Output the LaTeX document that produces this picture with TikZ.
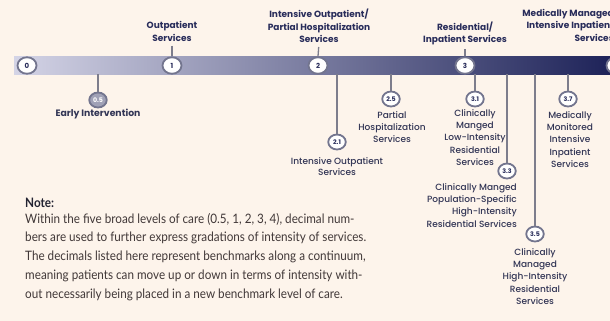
\documentclass[tikz,border=0pt]{standalone}
\usepackage{fontspec}
\usetikzlibrary{shapes.geometric}
\newfontfamily\labfont{Poppins}
\newfontfamily\medfont{Poppins Medium}
\newfontfamily\notefont[FakeStretch=0.9]{Lato}
\definecolor{bgc}{RGB}{253,244,235}
\definecolor{navy}{RGB}{40,44,90}
\definecolor{barL}{RGB}{212,212,230}
\definecolor{barM}{RGB}{95,97,145}
\definecolor{barR}{RGB}{25,30,85}
\definecolor{ringc}{RGB}{115,117,142}
\definecolor{tickc}{RGB}{125,125,140}
\definecolor{subtxt}{RGB}{50,53,85}
\definecolor{notetxt}{RGB}{65,56,56}
\definecolor{notehd}{RGB}{35,35,50}
\definecolor{fillhalf}{RGB}{160,161,182}
\begin{document}
\begin{tikzpicture}[x=1pt,y=-1pt,
  lvl/.style={ellipse, draw=ringc, line width=1.8pt, fill=white, minimum width=19pt, minimum height=16.5pt, inner sep=0pt, text=navy, font=\labfont\bfseries\fontsize{7}{7}\selectfont},
  sublvl/.style={lvl, minimum width=17.5pt, minimum height=15pt, font=\labfont\bfseries\fontsize{6.3}{6}\selectfont},
  toplab/.style={align=center, inner sep=0pt, text=navy, font=\labfont\bfseries\fontsize{9}{12.5}\selectfont, anchor=north},
  sublab/.style={align=center, inner sep=0pt, text=subtxt, font=\medfont\fontsize{9}{12.3}\selectfont, anchor=north},
  tickln/.style={draw=tickc, line width=1.3pt},
  barstyle/.style={rectangle, inner sep=0pt, minimum width=612pt, minimum height=17pt, left color=barL, middle color=barM, right color=barR}]
\useasboundingbox (0,0) rectangle (610,321);
\clip (0,0) rectangle (610,321);
\fill[bgc] (0,0) rectangle (610,321);

% bar
\node[barstyle] (bar) at (320,65.5) {};

% main levels
\node[lvl] (L0) at (27,65.5) {0};
\node[lvl] (L1) at (172,65.5) {1};
\node[lvl] (L2) at (318,65.5) {2};
\node[lvl] (L3) at (465,65.5) {3};
\node[lvl] (L4) at (616,65.5) {4};

% top labels
\node[toplab] (t1) at (172,21.5) {Outpatient\\Services};
\node[toplab] (t2) at (319,9) {Intensive Outpatient/\\Partial Hospitalization\\Services};
\node[toplab] (t3) at (465,21.5) {Residential/\\Inpatient Services};
\node[toplab, anchor=north east, align=right] (t4) at (614,9) {Medically Managed\\Intensive Inpatient\\Services};

\draw[tickln, shorten <=4pt] (t1.south) -- (L1.north);
\draw[tickln, shorten <=4pt] (t2.south) -- (L2.north);
\draw[tickln, shorten <=4pt] (t3.south) -- (L3.north);

% sub levels
\node[sublvl, fill=fillhalf, text=white] (s05) at (98,100) {0.5};
\node[sublvl] (s21) at (337,142) {2.1};
\node[sublvl] (s25) at (391,99) {2.5};
\node[sublvl] (s31) at (475,99) {3.1};
\node[sublvl] (s33) at (507,171) {3.3};
\node[sublvl] (s35) at (535,234) {3.5};
\node[sublvl] (s37) at (568,99) {3.7};

\foreach \s in {s05,s21,s25,s31,s33,s35,s37}
  \draw[tickln] (bar.south -| \s.north) -- (\s.north);

% sub labels
\node[sublab, font=\labfont\bfseries\fontsize{9.3}{12.3}\selectfont] (e05) at (98,109) {Early Intervention};
\node[sublab, font=\medfont\fontsize{9}{11}\selectfont] (e21) at (337,157) {Intensive Outpatient\\Services};
\node[sublab] (e25) at (392,111) {Partial\\Hospitalization\\Services};
\node[sublab] (e31) at (475,109) {Clinically\\Manged\\Low-Intensity\\Residential\\Services};
\node[sublab, anchor=north east, align=right] (e33) at (517,183) {Clinically Manged\\Population-Specific\\High-Intensity\\Residential Services};
\node[sublab] (e35) at (535,248) {Clinically\\Managed\\High-Intensity\\Residential\\Services};
\node[sublab] (e37) at (570,111) {Medically\\Monitored\\Intensive\\Inpatient\\Services};

% note
\node[anchor=north west, inner sep=0pt, text=notehd, font=\notefont\bfseries\fontsize{13}{14}\selectfont] (nh) at (25,198) {Note:};
\node[anchor=north west, inner sep=0pt, align=left, text=notetxt, font=\notefont\fontsize{13}{18.7}\selectfont] (nb) at (25,213) {Within the five broad levels of care (0.5, 1, 2, 3, 4), decimal num-\\bers are used to further express gradations of intensity of services.\\The decimals listed here represent benchmarks along a continuum,\\meaning patients can move up or down in terms of intensity with-\\out necessarily being placed in a new benchmark level of care.};
\end{tikzpicture}
\end{document}
